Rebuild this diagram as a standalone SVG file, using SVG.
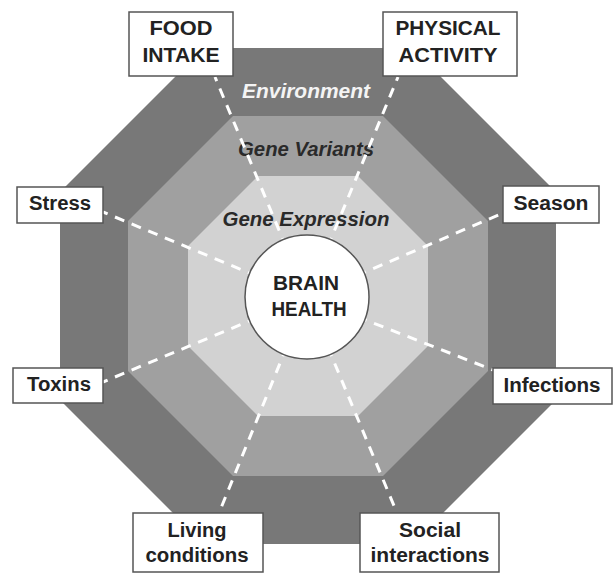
<svg xmlns="http://www.w3.org/2000/svg" width="615" height="573" viewBox="0 0 615 573">
<style>
.oct-outer{fill:#787878}
.oct-mid{fill:#a0a0a0}
.oct-inner{fill:#d2d2d2}
.conn{stroke:#ffffff;stroke-width:3;stroke-dasharray:10 8;fill:none}
.box{fill:#ffffff;stroke:#555555;stroke-width:1.5}
.lbl{font-family:"Liberation Sans",Arial,sans-serif;font-weight:bold;font-size:19.5px;fill:#222222;text-anchor:middle}
.layer{font-family:"Liberation Sans",Arial,sans-serif;font-weight:bold;font-style:italic;font-size:19.5px;text-anchor:middle}
</style>
<rect width="615" height="573" fill="#ffffff"/>
<g id="environment">
<polygon class="oct-outer" points="204,48 412,48 556,192 556,400 412,544 204,544 60,400 60,192"/>
</g>
<g id="gene-variants">
<polygon class="oct-mid" points="233,116 383,116 488,221 488,371 383,476 233,476 128,371 128,221"/>
</g>
<g id="gene-expression">
<polygon class="oct-inner" points="258,176 358,176 428,246 428,346 358,416 258,416 188,346 188,246"/>
</g>
<g id="layer-labels">
<text class="layer" x="306" y="98" fill="#f4f4f4" textLength="128" lengthAdjust="spacingAndGlyphs">Environment</text>
<text class="layer" x="306" y="156" fill="#2a2a2a" textLength="136" lengthAdjust="spacingAndGlyphs">Gene Variants</text>
<text class="layer" x="306" y="226" fill="#2a2a2a" textLength="167" lengthAdjust="spacingAndGlyphs">Gene Expression</text>
</g>
<g id="connectors">
<line class="conn" x1="307" y1="297" x2="215" y2="77"/>
<line class="conn" x1="307" y1="297" x2="398" y2="77"/>
<line class="conn" x1="307" y1="297" x2="103" y2="212"/>
<line class="conn" x1="307" y1="297" x2="503" y2="213"/>
<line class="conn" x1="307" y1="297" x2="103" y2="382"/>
<line class="conn" x1="307" y1="297" x2="493" y2="370"/>
<line class="conn" x1="307" y1="297" x2="219" y2="513"/>
<line class="conn" x1="307" y1="297" x2="397" y2="513"/>
</g>
<g id="brain-health">
<circle cx="307" cy="297" r="62" fill="#ffffff" stroke="#555555" stroke-width="1.5"/>
<text class="lbl" x="306" y="290" textLength="66" lengthAdjust="spacingAndGlyphs">BRAIN</text>
<text class="lbl" x="309" y="316" textLength="75" lengthAdjust="spacingAndGlyphs">HEALTH</text>
</g>
<g id="food-intake">
<rect class="box" x="129" y="12" width="104" height="64"/>
<text class="lbl" x="181" y="35" textLength="63" lengthAdjust="spacingAndGlyphs">FOOD</text>
<text class="lbl" x="181" y="62" textLength="77" lengthAdjust="spacingAndGlyphs">INTAKE</text>
</g>
<g id="physical-activity">
<rect class="box" x="383" y="12" width="134" height="64"/>
<text class="lbl" x="448" y="35" textLength="105" lengthAdjust="spacingAndGlyphs">PHYSICAL</text>
<text class="lbl" x="448" y="62" textLength="99" lengthAdjust="spacingAndGlyphs">ACTIVITY</text>
</g>
<g id="stress">
<rect class="box" x="17" y="187" width="86" height="36"/>
<text class="lbl" x="60" y="210" textLength="62" lengthAdjust="spacingAndGlyphs">Stress</text>
</g>
<g id="season">
<rect class="box" x="503" y="186" width="96" height="37"/>
<text class="lbl" x="551" y="210" textLength="75" lengthAdjust="spacingAndGlyphs">Season</text>
</g>
<g id="toxins">
<rect class="box" x="13" y="368" width="90" height="35"/>
<text class="lbl" x="59" y="391" textLength="64" lengthAdjust="spacingAndGlyphs">Toxins</text>
</g>
<g id="infections">
<rect class="box" x="493" y="368" width="119" height="36"/>
<text class="lbl" x="552" y="392" textLength="97" lengthAdjust="spacingAndGlyphs">Infections</text>
</g>
<g id="living-conditions">
<rect class="box" x="133" y="513" width="130" height="59"/>
<text class="lbl" x="197" y="537" textLength="59" lengthAdjust="spacingAndGlyphs">Living</text>
<text class="lbl" x="197" y="562" textLength="103" lengthAdjust="spacingAndGlyphs">conditions</text>
</g>
<g id="social-interactions">
<rect class="box" x="360" y="513" width="139" height="59"/>
<text class="lbl" x="430" y="537" textLength="62" lengthAdjust="spacingAndGlyphs">Social</text>
<text class="lbl" x="430" y="562" textLength="119" lengthAdjust="spacingAndGlyphs">interactions</text>
</g>
</svg>
